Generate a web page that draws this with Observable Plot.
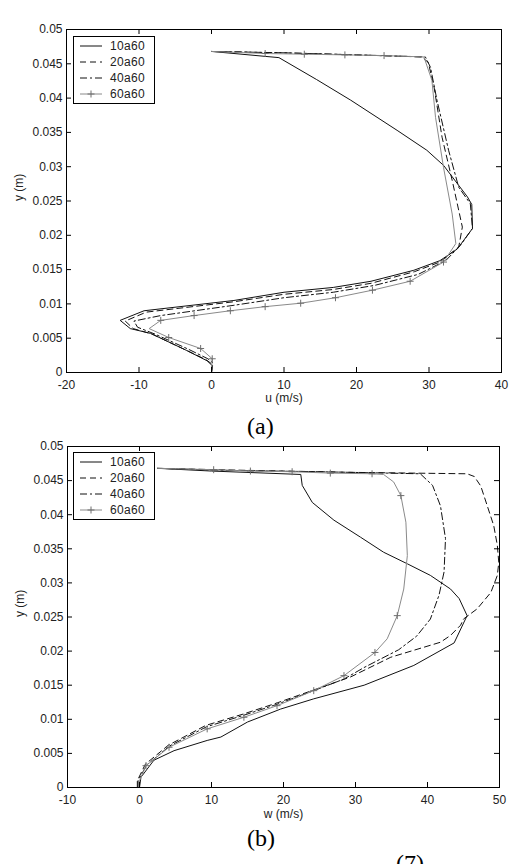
<!DOCTYPE html>
<html>
<head>
<meta charset="utf-8">
<script src="https://cdn.jsdelivr.net/npm/d3@7"></script>
<script src="https://cdn.jsdelivr.net/npm/@observablehq/plot@0.6"></script>
<style>
html, body { margin: 0; padding: 0; background: #fff; width: 521px; height: 864px; overflow: hidden; }
#page { position: relative; width: 521px; height: 864px; overflow: hidden; font-family: Arial, "Liberation Sans", sans-serif; }
.abs { position: absolute; }
.cap { position: absolute; font-family: "Liberation Serif", "Times New Roman", serif; font-size: 24px; line-height: 24px; color: #000; white-space: nowrap; }
</style>
</head>
<body>
<div id="page"></div>
<script>
// ---------- data ----------
const seriesNames = ["10a60", "20a60", "40a60", "60a60"];
const uTicks = [-20, -10, 0, 10, 20, 30, 40];
const wTicks = [-10, 0, 10, 20, 30, 40, 50];
const yTicks = [0, 0.005, 0.01, 0.015, 0.02, 0.025, 0.03, 0.035, 0.04, 0.045, 0.05];

// panel (a): [u (m/s), y (m)]
const u10 = [[0,0],[0.1,0.001],[-0.6,0.0017],[-3.4,0.0032],[-8.4,0.0057],[-11.2,0.0064],[-12.6,0.0076],[-9.3,0.009],[3.1,0.0105],[10,0.0117],[16.8,0.0124],[22,0.0133],[27.9,0.0149],[31.5,0.0163],[33.9,0.018],[36,0.021],[35.9,0.0245],[35.3,0.0256],[32,0.0302],[29.7,0.0324],[25.6,0.0353],[19.2,0.0397],[14.5,0.0427],[9.3,0.0459],[0,0.0468]];
const u20 = [[0,0],[0.1,0.0012],[-0.8,0.0019],[-3.6,0.0033],[-8.2,0.0056],[-10.8,0.0064],[-11.9,0.0075],[-9.0,0.0088],[3,0.0103],[10,0.0114],[16.8,0.0121],[22,0.013],[28,0.0147],[31.5,0.0161],[34.1,0.0183],[34.6,0.0212],[33.2,0.028],[31.8,0.0343],[30.7,0.0416],[29.9,0.0452],[29,0.046],[20,0.0463],[10,0.0466],[0,0.0468]];
const u40 = [[0,0],[0.2,0.0014],[-0.5,0.002],[-3.2,0.0034],[-7.8,0.0056],[-10.2,0.0066],[-10.7,0.0075],[-7.0,0.0083],[3.1,0.0098],[10,0.0109],[16.8,0.0117],[22.5,0.0127],[28.5,0.0143],[32.3,0.0163],[34.3,0.0185],[36,0.021],[35.7,0.0246],[34.1,0.027],[32.7,0.0324],[31.1,0.0397],[30.2,0.0445],[29.5,0.046],[20,0.0463],[10,0.0466],[0,0.0468]];
const u60 = [[0,0],[0.1,0.002],[-1.5,0.0035],[-5.9,0.0051],[-8.6,0.0064],[-7.0,0.0076],[-2.4,0.0083],[2.6,0.009],[7.4,0.0096],[12.3,0.0101],[17.1,0.0109],[22.2,0.012],[27.4,0.0133],[32.0,0.0161],[33.7,0.0188],[33.2,0.0231],[32,0.0299],[30.9,0.0372],[30.4,0.0426],[29.3,0.046],[23.8,0.0462],[18.4,0.0463],[12.8,0.0464],[7.4,0.0465],[0,0.0468]];
const u60Marks = [[0.1,0.002],[-1.5,0.0035],[-5.9,0.0051],[-7.0,0.0076],[-2.4,0.0083],[2.6,0.009],[7.4,0.0096],[12.3,0.0101],[17.1,0.0109],[22.2,0.012],[27.4,0.0133],[32.0,0.0161],[23.8,0.0462],[18.4,0.0463],[12.8,0.0464],[7.4,0.0465]];

// panel (b): [w (m/s), y (m)]
const w10 = [[0,0],[0.2,0.0015],[2.0,0.004],[4.8,0.0054],[9.4,0.0069],[11.3,0.0074],[15,0.0096],[19.6,0.0115],[24.2,0.013],[31.2,0.015],[38.1,0.0179],[43.7,0.0212],[45.5,0.0252],[44.4,0.0277],[43.2,0.0291],[40.4,0.0311],[37.2,0.0328],[33.9,0.0345],[30.7,0.0367],[27,0.0392],[24,0.0418],[22.6,0.0443],[22.4,0.0459],[10,0.0464],[2.5,0.0468]];
const w20 = [[-0.3,0],[-0.3,0.001],[0.8,0.0034],[4.0,0.0062],[9.2,0.0091],[14.5,0.0108],[19.1,0.0124],[24.2,0.0143],[29.3,0.0162],[34.9,0.0191],[41.8,0.0213],[43.2,0.0223],[44.6,0.0238],[45.0,0.0247],[46.9,0.0262],[48.8,0.0286],[49.7,0.0311],[49.9,0.033],[49.7,0.0355],[49.2,0.0384],[48.3,0.0413],[47.4,0.0442],[46.5,0.0456],[45.5,0.046],[30,0.0462],[15,0.0465],[2.5,0.0468]];
const w40 = [[-0.2,0],[-0.2,0.001],[1.0,0.0033],[4.2,0.0061],[9.3,0.0089],[14.5,0.0106],[19.1,0.0122],[24.2,0.0142],[28.4,0.0159],[31.2,0.0176],[36,0.0202],[38.5,0.0222],[40.4,0.0247],[41.6,0.0282],[42.3,0.0316],[42.5,0.0365],[41.8,0.0413],[40.7,0.0443],[39,0.046],[25,0.0463],[12,0.0465],[2.5,0.0468]];
const w60 = [[0,0],[0,0.001],[0.9,0.0032],[4.1,0.0059],[9.4,0.0086],[14.5,0.0103],[19.1,0.012],[24.2,0.0142],[28.4,0.0164],[32.7,0.0198],[34.4,0.0218],[35.8,0.0252],[36.7,0.0291],[37.2,0.034],[37,0.0389],[36.3,0.0428],[35.3,0.0448],[33.9,0.0459],[32.3,0.046],[26.5,0.0461],[21.2,0.0463],[15.4,0.0464],[10.3,0.0466],[2.5,0.0468]];
const w60Marks = [[0.9,0.0032],[4.1,0.0059],[9.4,0.0086],[14.5,0.0103],[19.1,0.012],[24.2,0.0142],[28.4,0.0164],[32.7,0.0198],[35.8,0.0252],[36.3,0.0428],[32.3,0.046],[26.5,0.0461],[21.2,0.0463],[15.4,0.0464],[10.3,0.0466]];

// ---------- styles ----------
const styles = {
  "10a60": {stroke: "#111", dash: null},
  "20a60": {stroke: "#111", dash: "6,4"},
  "40a60": {stroke: "#111", dash: "7,3,2,3"},
  "60a60": {stroke: "#8a8a8a", dash: null}
};
const markColor = "#6e6e6e";
const plusSymbol = {
  draw(ctx, size) {
    const r = Math.sqrt(size / Math.PI);
    ctx.moveTo(-r, 0); ctx.lineTo(r, 0);
    ctx.moveTo(0, -r); ctx.lineTo(0, r);
  }
};
const yFmt = d => d === 0 ? "0" : String(+d.toFixed(3));
const toRows = (name, pts) => pts.map(([x, y]) => ({s: name, x, y}));

function panel(opts) {
  const {width, height, mt, mr, mb, ml, xDomain, xTicks, series, marks, xLabel, xLabelDy} = opts;
  const innerW = width - ml - mr, innerH = height - mt - mb;
  const lineMarks = series.map(([name, pts]) =>
    Plot.line(toRows(name, pts), {x: "x", y: "y", stroke: styles[name].stroke, strokeWidth: 1,
      strokeDasharray: styles[name].dash, strokeLinejoin: "miter", curve: "linear"}));
  return Plot.plot({
    width, height, marginTop: mt, marginRight: mr, marginBottom: mb, marginLeft: ml,
    x: {domain: xDomain},
    y: {domain: [0, 0.05]},
    style: {fontFamily: "Arial, 'Liberation Sans', sans-serif", fontSize: "12px", color: "#222", background: "white", overflow: "visible"},
    marks: [
      ...lineMarks,
      Plot.dot(toRows("60a60", marks), {x: "x", y: "y", symbol: plusSymbol, r: 3.5, stroke: markColor, fill: "none", strokeWidth: 1}),
      Plot.tickX(xTicks, {x: d => d, insetTop: innerH - 5, stroke: "#000"}),
      Plot.tickX(xTicks, {x: d => d, insetBottom: innerH - 5, stroke: "#000"}),
      Plot.tickY(yTicks, {y: d => d, insetRight: innerW - 5, stroke: "#000"}),
      Plot.tickY(yTicks, {y: d => d, insetLeft: innerW - 5, stroke: "#000"}),
      Plot.axisX({ticks: xTicks, tickSize: 0, tickPadding: 8, label: null, tickFormat: d => String(d), letterSpacing: "0.4px"}),
      Plot.axisY({ticks: yTicks, tickSize: 0, tickPadding: 4, label: null, tickFormat: yFmt, letterSpacing: "0.4px"}),
      Plot.frame({stroke: "#000"}),
      Plot.text([xLabel], {text: d => d, frameAnchor: "bottom", dy: xLabelDy, letterSpacing: "0.3px"}),
      Plot.text(["y (m)"], {text: d => d, frameAnchor: "left", dx: -47, rotate: -90, letterSpacing: "0.3px"})
    ]
  });
}

function legend(left, top) {
  const ns = "http://www.w3.org/2000/svg";
  const svg = document.createElementNS(ns, "svg");
  svg.setAttribute("width", 82); svg.setAttribute("height", 68);
  svg.setAttribute("class", "abs");
  svg.style.left = left + "px"; svg.style.top = top + "px";
  const rect = document.createElementNS(ns, "rect");
  rect.setAttribute("x", 0.5); rect.setAttribute("y", 0.5);
  rect.setAttribute("width", 81); rect.setAttribute("height", 67);
  rect.setAttribute("fill", "#fff"); rect.setAttribute("stroke", "#000");
  svg.appendChild(rect);
  seriesNames.forEach((name, i) => {
    const yy = 10 + i * 16;
    const ln = document.createElementNS(ns, "line");
    ln.setAttribute("x1", 7); ln.setAttribute("x2", 29);
    ln.setAttribute("y1", yy); ln.setAttribute("y2", yy);
    ln.setAttribute("stroke", styles[name].stroke);
    if (styles[name].dash) ln.setAttribute("stroke-dasharray", styles[name].dash);
    svg.appendChild(ln);
    if (name === "60a60") {
      const p = document.createElementNS(ns, "path");
      p.setAttribute("d", `M14.5,${yy}h7M18,${yy - 3.5}v7`);
      p.setAttribute("stroke", markColor);
      svg.appendChild(p);
    }
    const t = document.createElementNS(ns, "text");
    t.setAttribute("x", 37); t.setAttribute("y", yy);
    t.setAttribute("dy", "0.35em");
    t.setAttribute("font-family", "Arial, 'Liberation Sans', sans-serif");
    t.setAttribute("font-size", "12px");
    t.setAttribute("letter-spacing", "0.3px");
    t.setAttribute("fill", "#222");
    t.textContent = name;
    svg.appendChild(t);
  });
  return svg;
}

const page = document.getElementById("page");

const a = panel({width: 521, height: 405, mt: 29, mr: 20, mb: 33, ml: 66,
  xDomain: [-20, 40], xTicks: uTicks,
  series: [["10a60", u10], ["20a60", u20], ["40a60", u40], ["60a60", u60]],
  marks: u60Marks, xLabel: "u (m/s)", xLabelDy: 29.5});
a.setAttribute("class", "abs"); a.style.left = "0px"; a.style.top = "0px";
page.appendChild(a);
page.appendChild(legend(73, 36));

const capA = document.createElement("div");
capA.className = "cap"; capA.textContent = "(a)";
capA.style.left = "247px"; capA.style.top = "414px";
page.appendChild(capA);

const b = panel({width: 521, height: 385, mt: 6, mr: 22, mb: 38, ml: 67,
  xDomain: [-10, 50], xTicks: wTicks,
  series: [["10a60", w10], ["20a60", w20], ["40a60", w40], ["60a60", w60]],
  marks: w60Marks, xLabel: "w (m/s)", xLabelDy: 30.5});
b.setAttribute("class", "abs"); b.style.left = "0px"; b.style.top = "440px";
page.appendChild(b);
page.appendChild(legend(73, 452));

const capB = document.createElement("div");
capB.className = "cap"; capB.textContent = "(b)";
capB.style.left = "247px"; capB.style.top = "826px";
page.appendChild(capB);

const eq = document.createElement("div");
eq.className = "cap"; eq.textContent = "(7)";
eq.style.left = "396px"; eq.style.top = "851px";
page.appendChild(eq);
</script>
</body>
</html>
